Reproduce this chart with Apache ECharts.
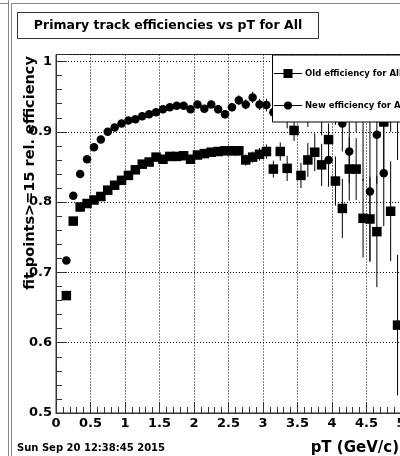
<!DOCTYPE html>
<html>
<head>
<meta charset="utf-8">
<script src="https://cdn.jsdelivr.net/npm/echarts@6.0.0/dist/echarts.min.js"></script>
<style>
  body { margin: 0; background: #fff; }
  #chart { width: 400px; height: 456px; }
</style>
</head>
<body>
<div id="chart"></div>
<script>
// bin centres in pT (GeV/c)
var ptBins = [0.15, 0.25, 0.35, 0.45, 0.55, 0.65, 0.75, 0.85, 0.95, 1.05,
              1.15, 1.25, 1.35, 1.45, 1.55, 1.65, 1.75, 1.85, 1.95, 2.05,
              2.15, 2.25, 2.35, 2.45, 2.55, 2.65, 2.75, 2.85, 2.95, 3.05,
              3.15, 3.25, 3.35, 3.45, 3.55, 3.65, 3.75, 3.85, 3.95, 4.05,
              4.15, 4.25, 4.35, 4.45, 4.55, 4.65, 4.75, 4.85, 4.95];

// old efficiency (squares)
var oldEff = [0.667, 0.773, 0.793, 0.798, 0.803, 0.808, 0.817, 0.824, 0.831, 0.838,
              0.846, 0.854, 0.857, 0.864, 0.861, 0.865, 0.865, 0.866, 0.861, 0.867,
              0.869, 0.871, 0.872, 0.873, 0.873, 0.873, 0.860, 0.864, 0.868, 0.872,
              0.847, 0.872, 0.848, 0.902, 0.838, 0.860, 0.871, 0.853, 0.889, 0.830,
              0.791, 0.847, 0.847, 0.777, 0.776, 0.758, 0.914, 0.787, 0.625];
var oldErr = [0.004, 0.003, 0.003, 0.003, 0.003, 0.003, 0.003, 0.003, 0.003, 0.003,
              0.003, 0.003, 0.004, 0.004, 0.004, 0.004, 0.004, 0.005, 0.005, 0.005,
              0.005, 0.006, 0.006, 0.006, 0.007, 0.007, 0.008, 0.008, 0.009, 0.010,
              0.012, 0.013, 0.018, 0.015, 0.018, 0.024, 0.027, 0.03, 0.023, 0.035,
              0.042, 0.045, 0.044, 0.056, 0.060, 0.079, 0.075, 0.071, 0.100];

// new efficiency (circles)
var newEff = [0.717, 0.809, 0.840, 0.861, 0.878, 0.889, 0.900, 0.906, 0.912, 0.916,
              0.918, 0.922, 0.925, 0.928, 0.932, 0.935, 0.937, 0.937, 0.932, 0.939,
              0.933, 0.939, 0.932, 0.925, 0.935, 0.945, 0.939, 0.949, 0.939, 0.938,
              0.928, 0.940, 0.945, 0.935, 0.950, 0.940, 0.955, 0.930, 0.860, 0.950,
              0.912, 0.872, 0.940, 0.930, 0.815, 0.896, 0.841, 0.950, 0.960];
var newErr = [0.004, 0.003, 0.003, 0.003, 0.003, 0.003, 0.003, 0.003, 0.003, 0.003,
              0.003, 0.003, 0.003, 0.003, 0.004, 0.004, 0.004, 0.004, 0.004, 0.005,
              0.005, 0.005, 0.006, 0.006, 0.006, 0.007, 0.007, 0.008, 0.008, 0.009,
              0.010, 0.015, 0.040, 0.020, 0.025, 0.033, 0.030, 0.035, 0.038, 0.040,
              0.040, 0.045, 0.040, 0.100, 0.100, 0.070, 0.075, 0.050, 0.100];

var xTicks = [0, 0.5, 1, 1.5, 2, 2.5, 3, 3.5, 4, 4.5, 5];
var yTicks = [0.5, 0.6, 0.7, 0.8, 0.9, 1];

var FONT = 'DejaVu Sans';

function errData(eff, err) {
    return ptBins.map(function (x, i) {
        return [x, eff[i] - err[i], eff[i] + err[i]];
    });
}
function ptData(eff) {
    return ptBins.map(function (x, i) { return [x, eff[i]]; });
}
function renderErr(params, api) {
    var lo = api.coord([api.value(0), api.value(1)]);
    var hi = api.coord([api.value(0), api.value(2)]);
    return {
        type: 'line',
        shape: { x1: lo[0], y1: lo[1], x2: hi[0], y2: hi[1] },
        style: { stroke: '#000', lineWidth: 1 }
    };
}

var myChart = echarts.init(document.getElementById('chart'));

var option = {
    animation: false,
    backgroundColor: '#fff',
    grid: {
        left: 56, top: 54.5, width: 345, height: 358.5,
        outerBoundsMode: 'none', containLabel: false,
        show: true, borderColor: '#333', borderWidth: 1, backgroundColor: 'transparent'
    },
    xAxis: {
        type: 'value',
        min: xTicks[0], max: xTicks[xTicks.length - 1], interval: 0.5,
        axisLine: { show: true, lineStyle: { color: '#333' } },
        axisTick: { inside: true, length: 11, lineStyle: { color: '#333' } },
        minorTick: { show: true, splitNumber: 5, length: 6, lineStyle: { color: '#333' } },
        splitLine: { show: true, lineStyle: { color: '#000', type: [1, 2] } },
        axisLabel: {
            margin: 4, color: '#000', fontFamily: FONT, fontWeight: 'bold', fontSize: 13,
            hideOverlap: false,
            formatter: function (v) { return xTicks.indexOf(v) >= 0 ? String(v) : ''; }
        }
    },
    yAxis: {
        type: 'value',
        min: yTicks[0], max: 1.01, interval: 0.1,
        axisLine: { show: true, lineStyle: { color: '#333' } },
        axisTick: { inside: true, length: 11, lineStyle: { color: '#333' } },
        minorTick: { show: true, splitNumber: 5, length: 6, lineStyle: { color: '#333' } },
        splitLine: { show: true, lineStyle: { color: '#000', type: [1, 2] } },
        axisLabel: {
            margin: 4, color: '#000', fontFamily: FONT, fontWeight: 'bold', fontSize: 13,
            showMaxLabel: false,
            formatter: function (v) {
                var r = Math.round(v * 10) / 10;
                return Math.abs(r - v) < 1e-6 ? String(r) : '';
            }
        }
    },
    series: [
        {
            type: 'custom', name: 'oldErr', clip: true,
            renderItem: renderErr, data: errData(oldEff, oldErr), z: 1
        },
        {
            type: 'custom', name: 'newErr', clip: true,
            renderItem: renderErr, data: errData(newEff, newErr), z: 1
        },
        {
            type: 'scatter', name: 'Old efficiency for All',
            symbol: 'rect', symbolSize: 9.5,
            itemStyle: { color: '#000', opacity: 1 },
            data: ptData(oldEff), z: 2
        },
        {
            type: 'scatter', name: 'New efficiency for All',
            symbol: 'circle', symbolSize: 8.5,
            itemStyle: { color: '#000', opacity: 1 },
            data: ptData(newEff), z: 2
        }
    ],
    graphic: [
        // pad borders
        { type: 'line', z: 100, shape: { x1: 8.5, y1: 0, x2: 8.5, y2: 456 }, style: { stroke: '#888', lineWidth: 1 } },
        { type: 'line', z: 100, shape: { x1: 11.5, y1: 3.5, x2: 11.5, y2: 456 }, style: { stroke: '#888', lineWidth: 1 } },
        { type: 'line', z: 100, shape: { x1: 11.5, y1: 3.5, x2: 400, y2: 3.5 }, style: { stroke: '#888', lineWidth: 1 } },
        { type: 'line', z: 100, shape: { x1: 0, y1: 3.5, x2: 8.5, y2: 3.5 }, style: { stroke: '#888', lineWidth: 1 } },
        // title box
        { type: 'rect', z: 100, shape: { x: 17.5, y: 12.5, width: 301, height: 26 },
          style: { fill: '#fff', stroke: '#333', lineWidth: 1 } },
        { type: 'text', z: 101, x: 168, y: 26,
          style: { text: 'Primary track efficiencies vs pT for All', font: 'bold 12.5px ' + FONT,
                   fill: '#000', align: 'center', verticalAlign: 'middle' } },
        // legend
        { type: 'rect', z: 100, shape: { x: 272.5, y: 55, width: 140, height: 67 },
          style: { fill: '#fff', stroke: '#000', lineWidth: 1 } },
        { type: 'line', z: 101, shape: { x1: 274, y1: 73.5, x2: 302, y2: 73.5 }, style: { stroke: '#000', lineWidth: 1 } },
        { type: 'rect', z: 101, shape: { x: 283.5, y: 69, width: 9, height: 9 }, style: { fill: '#000' } },
        { type: 'text', z: 101, x: 305, y: 73.5,
          style: { text: 'Old efficiency for All', font: 'bold 8.5px ' + FONT, fill: '#000',
                   align: 'left', verticalAlign: 'middle' } },
        { type: 'line', z: 101, shape: { x1: 274, y1: 105.5, x2: 302, y2: 105.5 }, style: { stroke: '#000', lineWidth: 1 } },
        { type: 'circle', z: 101, shape: { cx: 288, cy: 105.5, r: 4 }, style: { fill: '#000' } },
        { type: 'text', z: 101, x: 305, y: 105.5,
          style: { text: 'New efficiency for All', font: 'bold 8.5px ' + FONT, fill: '#000',
                   align: 'left', verticalAlign: 'middle' } },
        // axis titles
        { type: 'text', z: 101, x: 30, y: 173, rotation: Math.PI / 2,
          style: { text: 'fit points>=15 rel. efficiency', font: 'bold 14.5px ' + FONT, fill: '#000',
                   align: 'center', verticalAlign: 'middle' } },
        { type: 'text', z: 101, x: 399, y: 448,
          style: { text: 'pT (GeV/c)', font: 'bold 15px ' + FONT, fill: '#000',
                   align: 'right', verticalAlign: 'middle' } },
        { type: 'text', z: 101, x: 17, y: 448,
          style: { text: 'Sun Sep 20 12:38:45 2015', font: 'bold 10px ' + FONT, fill: '#000',
                   align: 'left', verticalAlign: 'middle' } }
    ]
};

myChart.setOption(option);
</script>
</body>
</html>
